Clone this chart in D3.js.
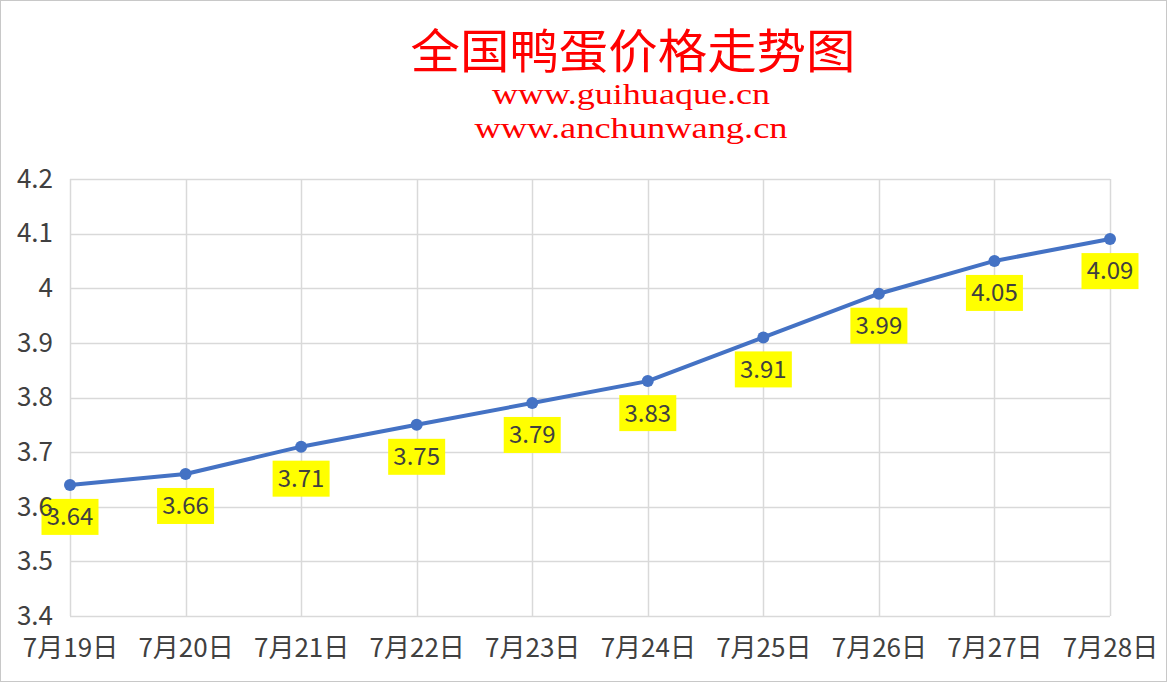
<!DOCTYPE html>
<html>
<head>
<meta charset="utf-8">
<script src="https://cdn.jsdelivr.net/npm/d3@7"></script>
<style>
  html, body { margin: 0; padding: 0; background: #fff; }
  svg { display: block; }
</style>
</head>
<body>
<div id="chart"></div>
<script>
// Chart data
const dates = ['7月19日', '7月20日', '7月21日', '7月22日', '7月23日', '7月24日', '7月25日', '7月26日', '7月27日', '7月28日'];
const prices = [3.64, 3.66, 3.71, 3.75, 3.79, 3.83, 3.91, 3.99, 4.05, 4.09];
const yTicks = [3.4, 3.5, 3.6, 3.7, 3.8, 3.9, 4.0, 4.1, 4.2];
const titleText = '全国鸭蛋价格走势图';
const subTitles = ['www.guihuaque.cn', 'www.anchunwang.cn'];

const width = 1168;
const height = 683;
const margin = { top: 179, right: 58, bottom: 67, left: 70 };
const innerW = width - margin.left - margin.right;
const innerH = height - margin.top - margin.bottom;
const font = '"Noto Sans CJK SC", "Noto Sans", sans-serif';

const svg = d3.select('#chart')
    .append('svg')
    .attr('width', width)
    .attr('height', height);

// Outer frame
svg.append('rect')
    .attr('x', 0.5).attr('y', 0.5)
    .attr('width', width - 2).attr('height', height - 2)
    .attr('fill', '#fff')
    .attr('stroke', '#c8c8c8');

// Title
svg.append('text')
    .attr('x', 633).attr('y', 68)
    .attr('text-anchor', 'middle')
    .attr('textLength', 445)
    .attr('lengthAdjust', 'spacingAndGlyphs')
    .style('font-family', '"Noto Sans CJK SC", serif')
    .style('font-size', '47px')
    .style('fill', '#ff0000')
    .text(titleText);

svg.append('text')
    .attr('x', 631).attr('y', 104)
    .attr('text-anchor', 'middle')
    .attr('textLength', 278)
    .attr('lengthAdjust', 'spacingAndGlyphs')
    .style('font-family', '"Liberation Serif", serif')
    .style('font-size', '29px')
    .style('fill', '#ff0000')
    .text(subTitles[0]);

svg.append('text')
    .attr('x', 631).attr('y', 138)
    .attr('text-anchor', 'middle')
    .attr('textLength', 313)
    .attr('lengthAdjust', 'spacingAndGlyphs')
    .style('font-family', '"Liberation Serif", serif')
    .style('font-size', '29px')
    .style('fill', '#ff0000')
    .text(subTitles[1]);

const g = svg.append('g')
    .attr('transform', `translate(${margin.left},${margin.top})`);

// Scales
const xScale = d3.scalePoint()
    .domain(dates)
    .range([0, innerW]);

const yScale = d3.scaleLinear()
    .domain([3.4, 4.2])
    .range([innerH, 0]);

// Gridlines
g.append('g')
    .selectAll('line')
    .data(yTicks)
    .enter().append('line')
    .attr('x1', 0).attr('x2', innerW)
    .attr('y1', d => Math.round(yScale(d)) + 0.5)
    .attr('y2', d => Math.round(yScale(d)) + 0.5)
    .attr('stroke', '#d9d9d9')
    .attr('stroke-width', 1.5);

g.append('g')
    .selectAll('line')
    .data(dates)
    .enter().append('line')
    .attr('x1', d => Math.round(xScale(d)) + 0.5)
    .attr('x2', d => Math.round(xScale(d)) + 0.5)
    .attr('y1', 0).attr('y2', innerH)
    .attr('stroke', '#d9d9d9')
    .attr('stroke-width', 1.5);

// X axis
const xAxis = g.append('g')
    .attr('transform', `translate(0,${innerH})`)
    .call(d3.axisBottom(xScale).tickSize(0).tickPadding(0));
xAxis.select('.domain').remove();
xAxis.selectAll('text')
    .attr('y', 32)
    .attr('dy', '0.35em')
    .style('font-family', font)
    .style('font-size', '26px')
    .style('fill', '#404040');

// Line
const line = d3.line()
    .x((d, i) => xScale(dates[i]))
    .y(d => yScale(d));

g.append('path')
    .datum(prices)
    .attr('d', line)
    .attr('fill', 'none')
    .attr('stroke', '#4472c4')
    .attr('stroke-width', 4)
    .attr('stroke-linejoin', 'round');

// Markers
g.selectAll('.dot')
    .data(prices)
    .enter().append('circle')
    .attr('class', 'dot')
    .attr('cx', (d, i) => xScale(dates[i]))
    .attr('cy', d => yScale(d))
    .attr('r', 6)
    .attr('fill', '#4472c4');

// Data labels (below the points, yellow boxes)
const labels = g.selectAll('.label')
    .data(prices)
    .enter().append('g')
    .attr('class', 'label')
    .attr('transform', (d, i) => `translate(${xScale(dates[i])},${yScale(d) + 32})`);

labels.append('rect')
    .attr('x', -28.5).attr('y', -18)
    .attr('width', 57).attr('height', 36)
    .attr('fill', '#ffff00');

labels.append('text')
    .attr('text-anchor', 'middle')
    .attr('dy', '0.35em')
    .style('font-family', font)
    .style('font-size', '24px')
    .style('fill', '#404040')
    .text(d => d.toFixed(2));

// Y axis (drawn last, its labels sit over the first data label as in the source)
const yAxis = g.append('g')
    .call(d3.axisLeft(yScale)
        .tickValues(yTicks)
        .tickSize(0)
        .tickPadding(17)
        .tickFormat(d => String(+d.toFixed(1))));
yAxis.select('.domain').remove();
yAxis.selectAll('text')
    .style('font-family', font)
    .style('font-size', '26px')
    .style('fill', '#404040');
</script>
</body>
</html>
